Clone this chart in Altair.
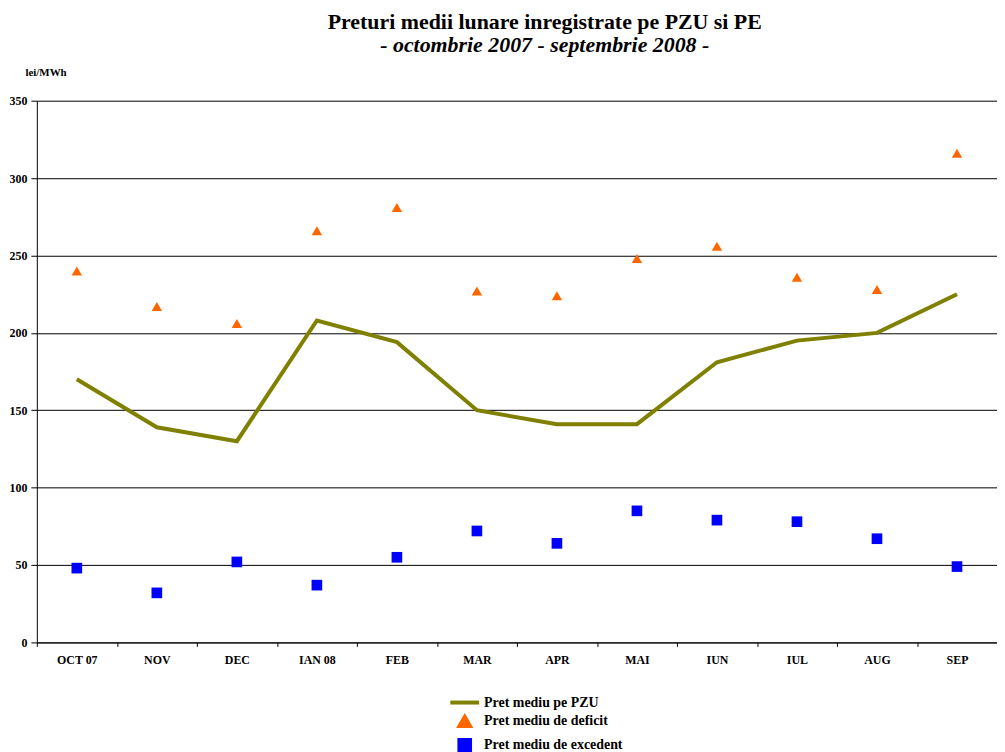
import altair as alt
import pandas as pd

months = ["OCT 07", "NOV", "DEC", "IAN 08", "FEB", "MAR", "APR", "MAI", "IUN", "IUL", "AUG", "SEP"]
pzu = [170, 139, 130, 208, 194, 150, 141, 141, 181, 195, 200, 225]
deficit = [240, 217, 206, 266, 281, 227, 224, 248, 256, 236, 228, 316]
excedent = [48, 32, 52, 37, 55, 72, 64, 85, 79, 78, 67, 49]

series_names = ["Pret mediu pe PZU", "Pret mediu de deficit", "Pret mediu de excedent"]
series_colors = ["#808000", "#FF6600", "#0000FF"]
series_shapes = ["stroke", "triangle-up", "square"]
series_sizes = [841, 110, 115]

rows = []
for name, vals in zip(series_names, [pzu, deficit, excedent]):
    for m, v in zip(months, vals):
        rows.append({"month": m, "series": name, "value": v})
df = pd.DataFrame(rows)

FONT = "Liberation Serif"

x_enc = alt.X(
    "month:N",
    sort=months,
    scale=alt.Scale(type="band", paddingInner=0, paddingOuter=0),
    axis=alt.Axis(
        title=None, labelAngle=0, tickBand="extent", tickSize=4, labelPadding=8,
        labelFont=FONT, labelFontSize=12, labelFontWeight="bold", labelColor="black",
        domainColor="black", tickColor="black", grid=False,
    ),
)
y_enc = alt.Y(
    "value:Q",
    scale=alt.Scale(domain=[0, 350], nice=False),
    axis=alt.Axis(
        values=[0, 50, 100, 150, 200, 250, 300, 350],
        title="lei/MWh", titleAngle=0, titleAlign="left", titleBaseline="alphabetic",
        titleX=-12, titleY=-25, titleFont=FONT, titleFontSize=11, titleFontWeight="bold",
        titleColor="black",
        labelFont=FONT, labelFontSize=12, labelFontWeight="bold", labelColor="black",
        labelPadding=4, tickSize=6, tickColor="black", domainColor="black",
        grid=True, gridColor="black", gridOpacity=1, gridWidth=1,
    ),
)

color_enc = alt.Color(
    "series:N",
    scale=alt.Scale(domain=series_names, range=series_colors),
    legend=alt.Legend(
        title=None, orient="none", legendX=414, legendY=589, direction="vertical",
        labelFont=FONT, labelFontSize=14, labelFontWeight="bold", labelColor="black",
        symbolStrokeWidth=4, rowPadding=-3, labelOffset=3, padding=0,
    ),
)

line = alt.Chart(df).transform_filter(
    alt.datum.series == series_names[0]
).mark_line(strokeWidth=4).encode(
    x=x_enc, y=y_enc, color=color_enc,
)

points = alt.Chart(df).transform_filter(
    alt.datum.series != series_names[0]
).mark_point(filled=True, opacity=1).encode(
    x=x_enc, y=y_enc, color=color_enc,
    shape=alt.Shape("series:N", scale=alt.Scale(domain=series_names, range=series_shapes)),
    size=alt.Size("series:N", scale=alt.Scale(type="ordinal", domain=series_names, range=series_sizes)),
)

chart = alt.layer(line, points).properties(
    width=966,
    height=545,
    padding={"left": 29, "top": 91, "right": 0, "bottom": 110},
    autosize=alt.AutoSizeParams(type="none"),
    title=alt.TitleParams(
        text="Preturi medii lunare inregistrate pe PZU si PE",
        subtitle="- octombrie 2007 - septembrie 2008 -",
        font=FONT, fontSize=22, fontWeight="bold", color="black",
        subtitleFont=FONT, subtitleFontSize=22, subtitleFontWeight="bold",
        subtitleFontStyle="italic", subtitleColor="black", subtitlePadding=1,
        anchor="middle", frame="group", dx=28, offset=10,
    ),
).configure_view(stroke=None)

chart.save("out.html", embed_options={"renderer": "svg", "actions": False})
